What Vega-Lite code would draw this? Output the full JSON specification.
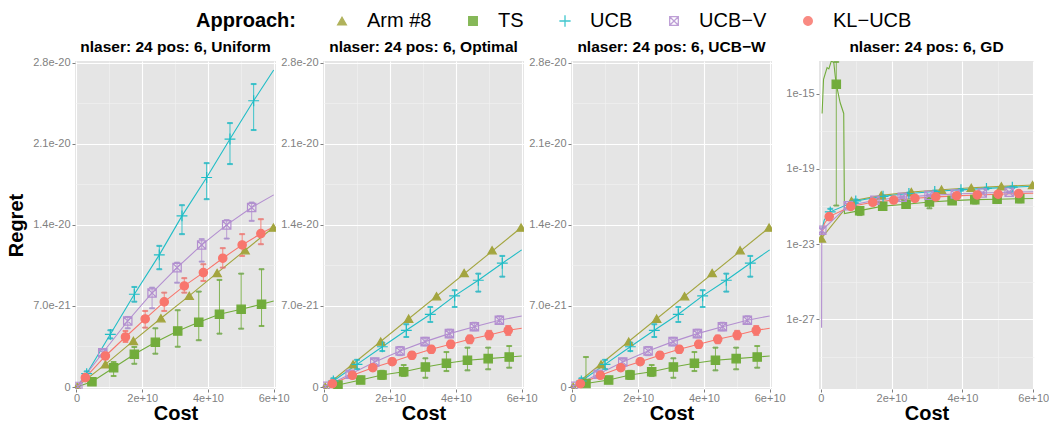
{
  "$schema": "https://vega.github.io/schema/vega-lite/v6.json",
  "padding": {"left": 6, "top": 11, "right": 0, "bottom": 0},
  "config": {
    "font": "Liberation Sans",
    "view": {"fill": "#E5E5E5", "stroke": null},
    "axis": {
      "domain": false,
      "labelColor": "#7F7F7F",
      "labelFontSize": 11,
      "labelPadding": 2,
      "labelFlush": false,
      "labelOverlap": false,
      "tickColor": "#7F7F7F",
      "tickSize": 3,
      "titleFontSize": 20,
      "titleFontWeight": "bold",
      "titleColor": "#000000",
      "titlePadding": 3
    },
    "axisX": {"labelPadding": 0, "titlePadding": 0},
    "title": {"fontSize": 15.5, "fontWeight": "bold", "color": "#000000", "offset": 0, "anchor": "middle", "frame": "group"}
  },
  "datasets": {
    "markers": [
      {"panel": "Uniform", "approach": "Arm #8", "cost": 0.02e10, "regret": 0.02e-21},
      {"panel": "Uniform", "approach": "Arm #8", "cost": 0.88e10, "regret": 1.96e-21},
      {"panel": "Uniform", "approach": "Arm #8", "cost": 1.73e10, "regret": 3.98e-21},
      {"panel": "Uniform", "approach": "Arm #8", "cost": 2.57e10, "regret": 5.94e-21},
      {"panel": "Uniform", "approach": "Arm #8", "cost": 3.43e10, "regret": 7.87e-21},
      {"panel": "Uniform", "approach": "Arm #8", "cost": 4.28e10, "regret": 9.85e-21},
      {"panel": "Uniform", "approach": "Arm #8", "cost": 5.13e10, "regret": 11.81e-21},
      {"panel": "Uniform", "approach": "Arm #8", "cost": 5.99e10, "regret": 13.77e-21},
      {"panel": "Uniform", "approach": "TS", "cost": 0.47e10, "regret": 0.46e-21, "lo": 0.30e-21, "hi": 0.62e-21},
      {"panel": "Uniform", "approach": "TS", "cost": 1.13e10, "regret": 1.67e-21, "lo": 0.95e-21, "hi": 2.16e-21},
      {"panel": "Uniform", "approach": "TS", "cost": 1.76e10, "regret": 2.83e-21, "lo": 2.01e-21, "hi": 3.46e-21},
      {"panel": "Uniform", "approach": "TS", "cost": 2.40e10, "regret": 3.86e-21, "lo": 2.88e-21, "hi": 5.07e-21},
      {"panel": "Uniform", "approach": "TS", "cost": 3.08e10, "regret": 4.84e-21, "lo": 3.48e-21, "hi": 6.63e-21},
      {"panel": "Uniform", "approach": "TS", "cost": 3.72e10, "regret": 5.59e-21, "lo": 4.04e-21, "hi": 8.24e-21},
      {"panel": "Uniform", "approach": "TS", "cost": 4.35e10, "regret": 6.28e-21, "lo": 4.61e-21, "hi": 9.25e-21},
      {"panel": "Uniform", "approach": "TS", "cost": 5.01e10, "regret": 6.71e-21, "lo": 5.04e-21, "hi": 9.79e-21},
      {"panel": "Uniform", "approach": "TS", "cost": 5.63e10, "regret": 7.15e-21, "lo": 5.27e-21, "hi": 10.17e-21},
      {"panel": "Uniform", "approach": "UCB", "cost": 0.31e10, "regret": 1.15e-21, "lo": 0.95e-21, "hi": 1.35e-21},
      {"panel": "Uniform", "approach": "UCB", "cost": 1.03e10, "regret": 4.55e-21, "lo": 4.20e-21, "hi": 4.90e-21},
      {"panel": "Uniform", "approach": "UCB", "cost": 1.76e10, "regret": 8.01e-21, "lo": 7.37e-21, "hi": 8.64e-21},
      {"panel": "Uniform", "approach": "UCB", "cost": 2.52e10, "regret": 11.41e-21, "lo": 10.17e-21, "hi": 12.19e-21},
      {"panel": "Uniform", "approach": "UCB", "cost": 3.21e10, "regret": 14.78e-21, "lo": 13.20e-21, "hi": 15.70e-21},
      {"panel": "Uniform", "approach": "UCB", "cost": 3.96e10, "regret": 18.09e-21, "lo": 16.22e-21, "hi": 19.33e-21},
      {"panel": "Uniform", "approach": "UCB", "cost": 4.67e10, "regret": 21.41e-21, "lo": 19.25e-21, "hi": 22.79e-21},
      {"panel": "Uniform", "approach": "UCB", "cost": 5.39e10, "regret": 24.72e-21, "lo": 22.19e-21, "hi": 26.16e-21},
      {"panel": "Uniform", "approach": "UCB−V", "cost": 0.04e10, "regret": 0.05e-21, "lo": 0.03e-21, "hi": 0.08e-21},
      {"panel": "Uniform", "approach": "UCB−V", "cost": 0.80e10, "regret": 2.96e-21, "lo": 2.66e-21, "hi": 3.26e-21},
      {"panel": "Uniform", "approach": "UCB−V", "cost": 1.56e10, "regret": 5.70e-21, "lo": 5.07e-21, "hi": 6.05e-21},
      {"panel": "Uniform", "approach": "UCB−V", "cost": 2.30e10, "regret": 8.12e-21, "lo": 6.80e-21, "hi": 8.58e-21},
      {"panel": "Uniform", "approach": "UCB−V", "cost": 3.06e10, "regret": 10.31e-21, "lo": 9.01e-21, "hi": 10.74e-21},
      {"panel": "Uniform", "approach": "UCB−V", "cost": 3.81e10, "regret": 12.27e-21, "lo": 10.83e-21, "hi": 12.77e-21},
      {"panel": "Uniform", "approach": "UCB−V", "cost": 4.57e10, "regret": 14.00e-21, "lo": 12.82e-21, "hi": 14.41e-21},
      {"panel": "Uniform", "approach": "UCB−V", "cost": 5.33e10, "regret": 15.50e-21, "lo": 14.35e-21, "hi": 15.93e-21},
      {"panel": "Uniform", "approach": "KL−UCB", "cost": 0.27e10, "regret": 0.81e-21, "lo": 0.65e-21, "hi": 0.97e-21},
      {"panel": "Uniform", "approach": "KL−UCB", "cost": 0.88e10, "regret": 2.68e-21, "lo": 2.40e-21, "hi": 2.95e-21},
      {"panel": "Uniform", "approach": "KL−UCB", "cost": 1.49e10, "regret": 4.32e-21, "lo": 3.89e-21, "hi": 4.84e-21},
      {"panel": "Uniform", "approach": "KL−UCB", "cost": 2.09e10, "regret": 5.88e-21, "lo": 5.13e-21, "hi": 6.57e-21},
      {"panel": "Uniform", "approach": "KL−UCB", "cost": 2.67e10, "regret": 7.35e-21, "lo": 6.57e-21, "hi": 8.15e-21},
      {"panel": "Uniform", "approach": "KL−UCB", "cost": 3.28e10, "regret": 8.73e-21, "lo": 8.15e-21, "hi": 9.40e-21},
      {"panel": "Uniform", "approach": "KL−UCB", "cost": 3.86e10, "regret": 9.88e-21, "lo": 9.16e-21, "hi": 10.60e-21},
      {"panel": "Uniform", "approach": "KL−UCB", "cost": 4.45e10, "regret": 11.12e-21, "lo": 10.31e-21, "hi": 11.99e-21},
      {"panel": "Uniform", "approach": "KL−UCB", "cost": 5.04e10, "regret": 12.27e-21, "lo": 11.32e-21, "hi": 13.20e-21},
      {"panel": "Uniform", "approach": "KL−UCB", "cost": 5.61e10, "regret": 13.25e-21, "lo": 12.33e-21, "hi": 14.49e-21},

      {"panel": "Optimal", "approach": "Arm #8", "cost": 0.02e10, "regret": 0.02e-21},
      {"panel": "Optimal", "approach": "Arm #8", "cost": 0.87e10, "regret": 1.96e-21},
      {"panel": "Optimal", "approach": "Arm #8", "cost": 1.71e10, "regret": 3.92e-21},
      {"panel": "Optimal", "approach": "Arm #8", "cost": 2.56e10, "regret": 5.90e-21},
      {"panel": "Optimal", "approach": "Arm #8", "cost": 3.41e10, "regret": 7.84e-21},
      {"panel": "Optimal", "approach": "Arm #8", "cost": 4.25e10, "regret": 9.85e-21},
      {"panel": "Optimal", "approach": "Arm #8", "cost": 5.10e10, "regret": 11.81e-21},
      {"panel": "Optimal", "approach": "Arm #8", "cost": 5.98e10, "regret": 13.77e-21},
      {"panel": "Optimal", "approach": "TS", "cost": 0.41e10, "regret": 0.17e-21, "lo": 0.06e-21, "hi": 0.30e-21},
      {"panel": "Optimal", "approach": "TS", "cost": 1.10e10, "regret": 0.60e-21, "lo": 0.35e-21, "hi": 0.90e-21},
      {"panel": "Optimal", "approach": "TS", "cost": 1.75e10, "regret": 1.04e-21, "lo": 0.70e-21, "hi": 1.40e-21},
      {"panel": "Optimal", "approach": "TS", "cost": 2.41e10, "regret": 1.32e-21, "lo": 0.95e-21, "hi": 1.90e-21},
      {"panel": "Optimal", "approach": "TS", "cost": 3.07e10, "regret": 1.73e-21, "lo": 0.80e-21, "hi": 2.48e-21},
      {"panel": "Optimal", "approach": "TS", "cost": 3.71e10, "regret": 2.05e-21, "lo": 1.38e-21, "hi": 3.02e-21},
      {"panel": "Optimal", "approach": "TS", "cost": 4.35e10, "regret": 2.31e-21, "lo": 1.44e-21, "hi": 3.40e-21},
      {"panel": "Optimal", "approach": "TS", "cost": 4.98e10, "regret": 2.45e-21, "lo": 1.53e-21, "hi": 3.40e-21},
      {"panel": "Optimal", "approach": "TS", "cost": 5.62e10, "regret": 2.59e-21, "lo": 1.67e-21, "hi": 3.54e-21},
      {"panel": "Optimal", "approach": "UCB", "cost": 0.27e10, "regret": 0.52e-21, "lo": 0.30e-21, "hi": 0.75e-21},
      {"panel": "Optimal", "approach": "UCB", "cost": 0.99e10, "regret": 1.96e-21, "lo": 1.55e-21, "hi": 2.35e-21},
      {"panel": "Optimal", "approach": "UCB", "cost": 1.76e10, "regret": 3.48e-21, "lo": 3.11e-21, "hi": 3.83e-21},
      {"panel": "Optimal", "approach": "UCB", "cost": 2.49e10, "regret": 4.90e-21, "lo": 4.32e-21, "hi": 5.42e-21},
      {"panel": "Optimal", "approach": "UCB", "cost": 3.22e10, "regret": 6.28e-21, "lo": 5.62e-21, "hi": 6.91e-21},
      {"panel": "Optimal", "approach": "UCB", "cost": 3.96e10, "regret": 7.87e-21, "lo": 6.91e-21, "hi": 8.36e-21},
      {"panel": "Optimal", "approach": "UCB", "cost": 4.68e10, "regret": 9.22e-21, "lo": 8.24e-21, "hi": 9.79e-21},
      {"panel": "Optimal", "approach": "UCB", "cost": 5.41e10, "regret": 10.69e-21, "lo": 9.53e-21, "hi": 11.32e-21},
      {"panel": "Optimal", "approach": "UCB−V", "cost": 0.03e10, "regret": 0.054e-21, "lo": 0.04e-21, "hi": 0.07e-21},
      {"panel": "Optimal", "approach": "UCB−V", "cost": 0.78e10, "regret": 1.10e-21, "lo": 0.85e-21, "hi": 1.35e-21},
      {"panel": "Optimal", "approach": "UCB−V", "cost": 1.53e10, "regret": 2.16e-21, "lo": 1.85e-21, "hi": 2.45e-21},
      {"panel": "Optimal", "approach": "UCB−V", "cost": 2.30e10, "regret": 3.11e-21, "lo": 2.75e-21, "hi": 3.46e-21},
      {"panel": "Optimal", "approach": "UCB−V", "cost": 3.06e10, "regret": 3.92e-21, "lo": 3.60e-21, "hi": 4.25e-21},
      {"panel": "Optimal", "approach": "UCB−V", "cost": 3.80e10, "regret": 4.61e-21, "lo": 4.30e-21, "hi": 4.95e-21},
      {"panel": "Optimal", "approach": "UCB−V", "cost": 4.56e10, "regret": 5.21e-21, "lo": 4.90e-21, "hi": 5.55e-21},
      {"panel": "Optimal", "approach": "UCB−V", "cost": 5.32e10, "regret": 5.76e-21, "lo": 5.45e-21, "hi": 6.10e-21},
      {"panel": "Optimal", "approach": "KL−UCB", "cost": 0.24e10, "regret": 0.29e-21, "lo": 0.20e-21, "hi": 0.38e-21},
      {"panel": "Optimal", "approach": "KL−UCB", "cost": 0.85e10, "regret": 1.01e-21, "lo": 0.85e-21, "hi": 1.17e-21},
      {"panel": "Optimal", "approach": "KL−UCB", "cost": 1.47e10, "regret": 1.67e-21, "lo": 1.45e-21, "hi": 1.90e-21},
      {"panel": "Optimal", "approach": "KL−UCB", "cost": 2.06e10, "regret": 2.19e-21, "lo": 1.95e-21, "hi": 2.45e-21},
      {"panel": "Optimal", "approach": "KL−UCB", "cost": 2.66e10, "regret": 2.74e-21, "lo": 2.45e-21, "hi": 3.02e-21},
      {"panel": "Optimal", "approach": "KL−UCB", "cost": 3.25e10, "regret": 3.26e-21, "lo": 2.95e-21, "hi": 3.55e-21},
      {"panel": "Optimal", "approach": "KL−UCB", "cost": 3.84e10, "regret": 3.69e-21, "lo": 3.38e-21, "hi": 4.00e-21},
      {"panel": "Optimal", "approach": "KL−UCB", "cost": 4.42e10, "regret": 4.12e-21, "lo": 3.78e-21, "hi": 4.45e-21},
      {"panel": "Optimal", "approach": "KL−UCB", "cost": 5.01e10, "regret": 4.49e-21, "lo": 4.12e-21, "hi": 4.85e-21},
      {"panel": "Optimal", "approach": "KL−UCB", "cost": 5.59e10, "regret": 4.90e-21, "lo": 4.49e-21, "hi": 5.27e-21},

      {"panel": "UCB-W", "approach": "Arm #8", "cost": 0.02e10, "regret": 0.02e-21},
      {"panel": "UCB-W", "approach": "Arm #8", "cost": 0.87e10, "regret": 1.96e-21},
      {"panel": "UCB-W", "approach": "Arm #8", "cost": 1.71e10, "regret": 3.92e-21},
      {"panel": "UCB-W", "approach": "Arm #8", "cost": 2.56e10, "regret": 5.90e-21},
      {"panel": "UCB-W", "approach": "Arm #8", "cost": 3.41e10, "regret": 7.84e-21},
      {"panel": "UCB-W", "approach": "Arm #8", "cost": 4.25e10, "regret": 9.85e-21},
      {"panel": "UCB-W", "approach": "Arm #8", "cost": 5.10e10, "regret": 11.81e-21},
      {"panel": "UCB-W", "approach": "Arm #8", "cost": 5.98e10, "regret": 13.77e-21},
      {"panel": "UCB-W", "approach": "TS", "cost": 0.41e10, "regret": 0.30e-21, "lo": 0.17e-21, "hi": 2.59e-21},
      {"panel": "UCB-W", "approach": "TS", "cost": 1.10e10, "regret": 0.60e-21, "lo": 0.35e-21, "hi": 0.90e-21},
      {"panel": "UCB-W", "approach": "TS", "cost": 1.75e10, "regret": 1.04e-21, "lo": 0.70e-21, "hi": 1.40e-21},
      {"panel": "UCB-W", "approach": "TS", "cost": 2.41e10, "regret": 1.32e-21, "lo": 0.95e-21, "hi": 1.90e-21},
      {"panel": "UCB-W", "approach": "TS", "cost": 3.07e10, "regret": 1.73e-21, "lo": 0.80e-21, "hi": 2.48e-21},
      {"panel": "UCB-W", "approach": "TS", "cost": 3.71e10, "regret": 2.05e-21, "lo": 1.38e-21, "hi": 3.02e-21},
      {"panel": "UCB-W", "approach": "TS", "cost": 4.35e10, "regret": 2.31e-21, "lo": 1.44e-21, "hi": 3.40e-21},
      {"panel": "UCB-W", "approach": "TS", "cost": 4.98e10, "regret": 2.45e-21, "lo": 1.53e-21, "hi": 3.40e-21},
      {"panel": "UCB-W", "approach": "TS", "cost": 5.62e10, "regret": 2.59e-21, "lo": 1.67e-21, "hi": 3.54e-21},
      {"panel": "UCB-W", "approach": "UCB", "cost": 0.27e10, "regret": 0.52e-21, "lo": 0.30e-21, "hi": 0.75e-21},
      {"panel": "UCB-W", "approach": "UCB", "cost": 0.99e10, "regret": 1.96e-21, "lo": 1.55e-21, "hi": 2.35e-21},
      {"panel": "UCB-W", "approach": "UCB", "cost": 1.76e10, "regret": 3.48e-21, "lo": 3.11e-21, "hi": 3.83e-21},
      {"panel": "UCB-W", "approach": "UCB", "cost": 2.49e10, "regret": 4.90e-21, "lo": 4.32e-21, "hi": 5.42e-21},
      {"panel": "UCB-W", "approach": "UCB", "cost": 3.22e10, "regret": 6.28e-21, "lo": 5.62e-21, "hi": 6.91e-21},
      {"panel": "UCB-W", "approach": "UCB", "cost": 3.96e10, "regret": 7.87e-21, "lo": 6.91e-21, "hi": 8.36e-21},
      {"panel": "UCB-W", "approach": "UCB", "cost": 4.68e10, "regret": 9.22e-21, "lo": 8.24e-21, "hi": 9.79e-21},
      {"panel": "UCB-W", "approach": "UCB", "cost": 5.41e10, "regret": 10.69e-21, "lo": 9.53e-21, "hi": 11.32e-21},
      {"panel": "UCB-W", "approach": "UCB−V", "cost": 0.03e10, "regret": 0.054e-21, "lo": 0.04e-21, "hi": 0.07e-21},
      {"panel": "UCB-W", "approach": "UCB−V", "cost": 0.78e10, "regret": 1.10e-21, "lo": 0.85e-21, "hi": 1.35e-21},
      {"panel": "UCB-W", "approach": "UCB−V", "cost": 1.53e10, "regret": 2.16e-21, "lo": 1.85e-21, "hi": 2.45e-21},
      {"panel": "UCB-W", "approach": "UCB−V", "cost": 2.30e10, "regret": 3.11e-21, "lo": 2.75e-21, "hi": 3.46e-21},
      {"panel": "UCB-W", "approach": "UCB−V", "cost": 3.06e10, "regret": 3.92e-21, "lo": 3.60e-21, "hi": 4.25e-21},
      {"panel": "UCB-W", "approach": "UCB−V", "cost": 3.80e10, "regret": 4.61e-21, "lo": 4.30e-21, "hi": 4.95e-21},
      {"panel": "UCB-W", "approach": "UCB−V", "cost": 4.56e10, "regret": 5.21e-21, "lo": 4.90e-21, "hi": 5.55e-21},
      {"panel": "UCB-W", "approach": "UCB−V", "cost": 5.32e10, "regret": 5.76e-21, "lo": 5.45e-21, "hi": 6.10e-21},
      {"panel": "UCB-W", "approach": "KL−UCB", "cost": 0.24e10, "regret": 0.29e-21, "lo": 0.20e-21, "hi": 0.38e-21},
      {"panel": "UCB-W", "approach": "KL−UCB", "cost": 0.85e10, "regret": 1.01e-21, "lo": 0.85e-21, "hi": 1.17e-21},
      {"panel": "UCB-W", "approach": "KL−UCB", "cost": 1.47e10, "regret": 1.67e-21, "lo": 1.45e-21, "hi": 1.90e-21},
      {"panel": "UCB-W", "approach": "KL−UCB", "cost": 2.06e10, "regret": 2.19e-21, "lo": 1.95e-21, "hi": 2.45e-21},
      {"panel": "UCB-W", "approach": "KL−UCB", "cost": 2.66e10, "regret": 2.74e-21, "lo": 2.45e-21, "hi": 3.02e-21},
      {"panel": "UCB-W", "approach": "KL−UCB", "cost": 3.25e10, "regret": 3.26e-21, "lo": 2.95e-21, "hi": 3.55e-21},
      {"panel": "UCB-W", "approach": "KL−UCB", "cost": 3.84e10, "regret": 3.69e-21, "lo": 3.38e-21, "hi": 4.00e-21},
      {"panel": "UCB-W", "approach": "KL−UCB", "cost": 4.42e10, "regret": 4.12e-21, "lo": 3.78e-21, "hi": 4.45e-21},
      {"panel": "UCB-W", "approach": "KL−UCB", "cost": 5.01e10, "regret": 4.49e-21, "lo": 4.12e-21, "hi": 4.85e-21},
      {"panel": "UCB-W", "approach": "KL−UCB", "cost": 5.59e10, "regret": 4.90e-21, "lo": 4.49e-21, "hi": 5.27e-21},

      {"panel": "GD", "approach": "Arm #8", "cost": 0.02e10, "regret": 0.02e-21},
      {"panel": "GD", "approach": "Arm #8", "cost": 0.87e10, "regret": 1.96e-21},
      {"panel": "GD", "approach": "Arm #8", "cost": 1.71e10, "regret": 3.92e-21},
      {"panel": "GD", "approach": "Arm #8", "cost": 2.56e10, "regret": 5.90e-21},
      {"panel": "GD", "approach": "Arm #8", "cost": 3.41e10, "regret": 7.84e-21},
      {"panel": "GD", "approach": "Arm #8", "cost": 4.25e10, "regret": 9.85e-21},
      {"panel": "GD", "approach": "Arm #8", "cost": 5.10e10, "regret": 11.81e-21},
      {"panel": "GD", "approach": "Arm #8", "cost": 5.98e10, "regret": 13.77e-21},
      {"panel": "GD", "approach": "TS", "cost": 0.44e10, "regret": 3.16e-15, "lo": 1.12e-21, "hi": 4.9e-14},
      {"panel": "GD", "approach": "TS", "cost": 1.10e10, "regret": 0.60e-21, "lo": 0.35e-21, "hi": 0.90e-21},
      {"panel": "GD", "approach": "TS", "cost": 1.75e10, "regret": 1.04e-21, "lo": 0.70e-21, "hi": 1.40e-21},
      {"panel": "GD", "approach": "TS", "cost": 2.41e10, "regret": 1.32e-21, "lo": 0.95e-21, "hi": 1.90e-21},
      {"panel": "GD", "approach": "TS", "cost": 3.07e10, "regret": 1.73e-21, "lo": 0.80e-21, "hi": 2.48e-21},
      {"panel": "GD", "approach": "TS", "cost": 3.71e10, "regret": 2.05e-21, "lo": 1.38e-21, "hi": 3.02e-21},
      {"panel": "GD", "approach": "TS", "cost": 4.35e10, "regret": 2.31e-21, "lo": 1.44e-21, "hi": 3.40e-21},
      {"panel": "GD", "approach": "TS", "cost": 4.98e10, "regret": 2.45e-21, "lo": 1.53e-21, "hi": 3.40e-21},
      {"panel": "GD", "approach": "TS", "cost": 5.62e10, "regret": 2.59e-21, "lo": 1.67e-21, "hi": 3.54e-21},
      {"panel": "GD", "approach": "UCB", "cost": 0.27e10, "regret": 0.52e-21, "lo": 0.30e-21, "hi": 0.75e-21},
      {"panel": "GD", "approach": "UCB", "cost": 0.99e10, "regret": 1.96e-21, "lo": 1.55e-21, "hi": 2.35e-21},
      {"panel": "GD", "approach": "UCB", "cost": 1.76e10, "regret": 3.48e-21, "lo": 3.11e-21, "hi": 3.83e-21},
      {"panel": "GD", "approach": "UCB", "cost": 2.49e10, "regret": 4.90e-21, "lo": 4.32e-21, "hi": 5.42e-21},
      {"panel": "GD", "approach": "UCB", "cost": 3.22e10, "regret": 6.28e-21, "lo": 5.62e-21, "hi": 6.91e-21},
      {"panel": "GD", "approach": "UCB", "cost": 3.96e10, "regret": 7.87e-21, "lo": 6.91e-21, "hi": 8.36e-21},
      {"panel": "GD", "approach": "UCB", "cost": 4.68e10, "regret": 9.22e-21, "lo": 8.24e-21, "hi": 9.79e-21},
      {"panel": "GD", "approach": "UCB", "cost": 5.41e10, "regret": 10.69e-21, "lo": 9.53e-21, "hi": 11.32e-21},
      {"panel": "GD", "approach": "UCB−V", "cost": 0.03e10, "regret": 0.054e-21, "lo": 0.04e-21, "hi": 0.07e-21},
      {"panel": "GD", "approach": "UCB−V", "cost": 0.78e10, "regret": 1.10e-21, "lo": 0.85e-21, "hi": 1.35e-21},
      {"panel": "GD", "approach": "UCB−V", "cost": 1.53e10, "regret": 2.16e-21, "lo": 1.85e-21, "hi": 2.45e-21},
      {"panel": "GD", "approach": "UCB−V", "cost": 2.30e10, "regret": 3.11e-21, "lo": 2.75e-21, "hi": 3.46e-21},
      {"panel": "GD", "approach": "UCB−V", "cost": 3.06e10, "regret": 3.92e-21, "lo": 3.60e-21, "hi": 4.25e-21},
      {"panel": "GD", "approach": "UCB−V", "cost": 3.80e10, "regret": 4.61e-21, "lo": 4.30e-21, "hi": 4.95e-21},
      {"panel": "GD", "approach": "UCB−V", "cost": 4.56e10, "regret": 5.21e-21, "lo": 4.90e-21, "hi": 5.55e-21},
      {"panel": "GD", "approach": "UCB−V", "cost": 5.32e10, "regret": 5.76e-21, "lo": 5.45e-21, "hi": 6.10e-21},
      {"panel": "GD", "approach": "KL−UCB", "cost": 0.24e10, "regret": 0.29e-21, "lo": 0.20e-21, "hi": 0.38e-21},
      {"panel": "GD", "approach": "KL−UCB", "cost": 0.85e10, "regret": 1.01e-21, "lo": 0.85e-21, "hi": 1.17e-21},
      {"panel": "GD", "approach": "KL−UCB", "cost": 1.47e10, "regret": 1.67e-21, "lo": 1.45e-21, "hi": 1.90e-21},
      {"panel": "GD", "approach": "KL−UCB", "cost": 2.06e10, "regret": 2.19e-21, "lo": 1.95e-21, "hi": 2.45e-21},
      {"panel": "GD", "approach": "KL−UCB", "cost": 2.66e10, "regret": 2.74e-21, "lo": 2.45e-21, "hi": 3.02e-21},
      {"panel": "GD", "approach": "KL−UCB", "cost": 3.25e10, "regret": 3.26e-21, "lo": 2.95e-21, "hi": 3.55e-21},
      {"panel": "GD", "approach": "KL−UCB", "cost": 3.84e10, "regret": 3.69e-21, "lo": 3.38e-21, "hi": 4.00e-21},
      {"panel": "GD", "approach": "KL−UCB", "cost": 4.42e10, "regret": 4.12e-21, "lo": 3.78e-21, "hi": 4.45e-21},
      {"panel": "GD", "approach": "KL−UCB", "cost": 5.01e10, "regret": 4.49e-21, "lo": 4.12e-21, "hi": 4.85e-21},
      {"panel": "GD", "approach": "KL−UCB", "cost": 5.59e10, "regret": 4.90e-21, "lo": 4.49e-21, "hi": 5.27e-21}
    ],
    "curves": [
      {"panel": "Uniform", "approach": "Arm #8", "cost": 0, "regret": 0},
      {"panel": "Uniform", "approach": "Arm #8", "cost": 0.88e10, "regret": 1.96e-21},
      {"panel": "Uniform", "approach": "Arm #8", "cost": 1.73e10, "regret": 3.98e-21},
      {"panel": "Uniform", "approach": "Arm #8", "cost": 2.57e10, "regret": 5.94e-21},
      {"panel": "Uniform", "approach": "Arm #8", "cost": 3.43e10, "regret": 7.87e-21},
      {"panel": "Uniform", "approach": "Arm #8", "cost": 4.28e10, "regret": 9.85e-21},
      {"panel": "Uniform", "approach": "Arm #8", "cost": 5.13e10, "regret": 11.81e-21},
      {"panel": "Uniform", "approach": "Arm #8", "cost": 6.0e10, "regret": 13.80e-21},
      {"panel": "Uniform", "approach": "TS", "cost": 0, "regret": 0},
      {"panel": "Uniform", "approach": "TS", "cost": 0.47e10, "regret": 0.46e-21},
      {"panel": "Uniform", "approach": "TS", "cost": 1.13e10, "regret": 1.67e-21},
      {"panel": "Uniform", "approach": "TS", "cost": 1.76e10, "regret": 2.83e-21},
      {"panel": "Uniform", "approach": "TS", "cost": 2.40e10, "regret": 3.86e-21},
      {"panel": "Uniform", "approach": "TS", "cost": 3.08e10, "regret": 4.84e-21},
      {"panel": "Uniform", "approach": "TS", "cost": 3.72e10, "regret": 5.59e-21},
      {"panel": "Uniform", "approach": "TS", "cost": 4.35e10, "regret": 6.28e-21},
      {"panel": "Uniform", "approach": "TS", "cost": 5.01e10, "regret": 6.71e-21},
      {"panel": "Uniform", "approach": "TS", "cost": 5.63e10, "regret": 7.15e-21},
      {"panel": "Uniform", "approach": "TS", "cost": 6.0e10, "regret": 7.43e-21},
      {"panel": "Uniform", "approach": "UCB", "cost": 0, "regret": 0},
      {"panel": "Uniform", "approach": "UCB", "cost": 0.31e10, "regret": 1.15e-21},
      {"panel": "Uniform", "approach": "UCB", "cost": 1.03e10, "regret": 4.55e-21},
      {"panel": "Uniform", "approach": "UCB", "cost": 1.76e10, "regret": 8.01e-21},
      {"panel": "Uniform", "approach": "UCB", "cost": 2.52e10, "regret": 11.41e-21},
      {"panel": "Uniform", "approach": "UCB", "cost": 3.21e10, "regret": 14.78e-21},
      {"panel": "Uniform", "approach": "UCB", "cost": 3.96e10, "regret": 18.09e-21},
      {"panel": "Uniform", "approach": "UCB", "cost": 4.67e10, "regret": 21.41e-21},
      {"panel": "Uniform", "approach": "UCB", "cost": 5.39e10, "regret": 24.72e-21},
      {"panel": "Uniform", "approach": "UCB", "cost": 6.0e10, "regret": 27.37e-21},
      {"panel": "Uniform", "approach": "UCB−V", "cost": 0, "regret": 0},
      {"panel": "Uniform", "approach": "UCB−V", "cost": 0.80e10, "regret": 2.96e-21},
      {"panel": "Uniform", "approach": "UCB−V", "cost": 1.56e10, "regret": 5.70e-21},
      {"panel": "Uniform", "approach": "UCB−V", "cost": 2.30e10, "regret": 8.12e-21},
      {"panel": "Uniform", "approach": "UCB−V", "cost": 3.06e10, "regret": 10.31e-21},
      {"panel": "Uniform", "approach": "UCB−V", "cost": 3.81e10, "regret": 12.27e-21},
      {"panel": "Uniform", "approach": "UCB−V", "cost": 4.57e10, "regret": 14.00e-21},
      {"panel": "Uniform", "approach": "UCB−V", "cost": 5.33e10, "regret": 15.50e-21},
      {"panel": "Uniform", "approach": "UCB−V", "cost": 6.0e10, "regret": 16.59e-21},
      {"panel": "Uniform", "approach": "KL−UCB", "cost": 0, "regret": 0},
      {"panel": "Uniform", "approach": "KL−UCB", "cost": 0.27e10, "regret": 0.81e-21},
      {"panel": "Uniform", "approach": "KL−UCB", "cost": 0.88e10, "regret": 2.68e-21},
      {"panel": "Uniform", "approach": "KL−UCB", "cost": 1.49e10, "regret": 4.32e-21},
      {"panel": "Uniform", "approach": "KL−UCB", "cost": 2.09e10, "regret": 5.88e-21},
      {"panel": "Uniform", "approach": "KL−UCB", "cost": 2.67e10, "regret": 7.35e-21},
      {"panel": "Uniform", "approach": "KL−UCB", "cost": 3.28e10, "regret": 8.73e-21},
      {"panel": "Uniform", "approach": "KL−UCB", "cost": 3.86e10, "regret": 9.88e-21},
      {"panel": "Uniform", "approach": "KL−UCB", "cost": 4.45e10, "regret": 11.12e-21},
      {"panel": "Uniform", "approach": "KL−UCB", "cost": 5.04e10, "regret": 12.27e-21},
      {"panel": "Uniform", "approach": "KL−UCB", "cost": 5.61e10, "regret": 13.25e-21},
      {"panel": "Uniform", "approach": "KL−UCB", "cost": 6.0e10, "regret": 13.83e-21},

      {"panel": "Optimal", "approach": "Arm #8", "cost": 0, "regret": 0},
      {"panel": "Optimal", "approach": "Arm #8", "cost": 6.0e10, "regret": 13.80e-21},
      {"panel": "Optimal", "approach": "TS", "cost": 0, "regret": 0},
      {"panel": "Optimal", "approach": "TS", "cost": 0.41e10, "regret": 0.17e-21},
      {"panel": "Optimal", "approach": "TS", "cost": 1.10e10, "regret": 0.60e-21},
      {"panel": "Optimal", "approach": "TS", "cost": 1.75e10, "regret": 1.04e-21},
      {"panel": "Optimal", "approach": "TS", "cost": 2.41e10, "regret": 1.32e-21},
      {"panel": "Optimal", "approach": "TS", "cost": 3.07e10, "regret": 1.73e-21},
      {"panel": "Optimal", "approach": "TS", "cost": 3.71e10, "regret": 2.05e-21},
      {"panel": "Optimal", "approach": "TS", "cost": 4.35e10, "regret": 2.31e-21},
      {"panel": "Optimal", "approach": "TS", "cost": 4.98e10, "regret": 2.45e-21},
      {"panel": "Optimal", "approach": "TS", "cost": 5.62e10, "regret": 2.59e-21},
      {"panel": "Optimal", "approach": "TS", "cost": 6.0e10, "regret": 2.68e-21},
      {"panel": "Optimal", "approach": "UCB", "cost": 0, "regret": 0},
      {"panel": "Optimal", "approach": "UCB", "cost": 0.27e10, "regret": 0.52e-21},
      {"panel": "Optimal", "approach": "UCB", "cost": 0.99e10, "regret": 1.96e-21},
      {"panel": "Optimal", "approach": "UCB", "cost": 1.76e10, "regret": 3.48e-21},
      {"panel": "Optimal", "approach": "UCB", "cost": 2.49e10, "regret": 4.90e-21},
      {"panel": "Optimal", "approach": "UCB", "cost": 3.22e10, "regret": 6.28e-21},
      {"panel": "Optimal", "approach": "UCB", "cost": 3.96e10, "regret": 7.87e-21},
      {"panel": "Optimal", "approach": "UCB", "cost": 4.68e10, "regret": 9.22e-21},
      {"panel": "Optimal", "approach": "UCB", "cost": 5.41e10, "regret": 10.69e-21},
      {"panel": "Optimal", "approach": "UCB", "cost": 6.0e10, "regret": 11.84e-21},
      {"panel": "Optimal", "approach": "UCB−V", "cost": 0, "regret": 0},
      {"panel": "Optimal", "approach": "UCB−V", "cost": 0.78e10, "regret": 1.10e-21},
      {"panel": "Optimal", "approach": "UCB−V", "cost": 1.53e10, "regret": 2.16e-21},
      {"panel": "Optimal", "approach": "UCB−V", "cost": 2.30e10, "regret": 3.11e-21},
      {"panel": "Optimal", "approach": "UCB−V", "cost": 3.06e10, "regret": 3.92e-21},
      {"panel": "Optimal", "approach": "UCB−V", "cost": 3.80e10, "regret": 4.61e-21},
      {"panel": "Optimal", "approach": "UCB−V", "cost": 4.56e10, "regret": 5.21e-21},
      {"panel": "Optimal", "approach": "UCB−V", "cost": 5.32e10, "regret": 5.76e-21},
      {"panel": "Optimal", "approach": "UCB−V", "cost": 6.0e10, "regret": 6.14e-21},
      {"panel": "Optimal", "approach": "KL−UCB", "cost": 0, "regret": 0},
      {"panel": "Optimal", "approach": "KL−UCB", "cost": 0.24e10, "regret": 0.29e-21},
      {"panel": "Optimal", "approach": "KL−UCB", "cost": 0.85e10, "regret": 1.01e-21},
      {"panel": "Optimal", "approach": "KL−UCB", "cost": 1.47e10, "regret": 1.67e-21},
      {"panel": "Optimal", "approach": "KL−UCB", "cost": 2.06e10, "regret": 2.19e-21},
      {"panel": "Optimal", "approach": "KL−UCB", "cost": 2.66e10, "regret": 2.74e-21},
      {"panel": "Optimal", "approach": "KL−UCB", "cost": 3.25e10, "regret": 3.26e-21},
      {"panel": "Optimal", "approach": "KL−UCB", "cost": 3.84e10, "regret": 3.69e-21},
      {"panel": "Optimal", "approach": "KL−UCB", "cost": 4.42e10, "regret": 4.12e-21},
      {"panel": "Optimal", "approach": "KL−UCB", "cost": 5.01e10, "regret": 4.49e-21},
      {"panel": "Optimal", "approach": "KL−UCB", "cost": 5.59e10, "regret": 4.90e-21},
      {"panel": "Optimal", "approach": "KL−UCB", "cost": 6.0e10, "regret": 5.07e-21},

      {"panel": "UCB-W", "approach": "Arm #8", "cost": 0, "regret": 0},
      {"panel": "UCB-W", "approach": "Arm #8", "cost": 6.0e10, "regret": 13.80e-21},
      {"panel": "UCB-W", "approach": "TS", "cost": 0, "regret": 0},
      {"panel": "UCB-W", "approach": "TS", "cost": 0.41e10, "regret": 0.30e-21},
      {"panel": "UCB-W", "approach": "TS", "cost": 1.10e10, "regret": 0.60e-21},
      {"panel": "UCB-W", "approach": "TS", "cost": 1.75e10, "regret": 1.04e-21},
      {"panel": "UCB-W", "approach": "TS", "cost": 2.41e10, "regret": 1.32e-21},
      {"panel": "UCB-W", "approach": "TS", "cost": 3.07e10, "regret": 1.73e-21},
      {"panel": "UCB-W", "approach": "TS", "cost": 3.71e10, "regret": 2.05e-21},
      {"panel": "UCB-W", "approach": "TS", "cost": 4.35e10, "regret": 2.31e-21},
      {"panel": "UCB-W", "approach": "TS", "cost": 4.98e10, "regret": 2.45e-21},
      {"panel": "UCB-W", "approach": "TS", "cost": 5.62e10, "regret": 2.59e-21},
      {"panel": "UCB-W", "approach": "TS", "cost": 6.0e10, "regret": 2.68e-21},
      {"panel": "UCB-W", "approach": "UCB", "cost": 0, "regret": 0},
      {"panel": "UCB-W", "approach": "UCB", "cost": 0.27e10, "regret": 0.52e-21},
      {"panel": "UCB-W", "approach": "UCB", "cost": 0.99e10, "regret": 1.96e-21},
      {"panel": "UCB-W", "approach": "UCB", "cost": 1.76e10, "regret": 3.48e-21},
      {"panel": "UCB-W", "approach": "UCB", "cost": 2.49e10, "regret": 4.90e-21},
      {"panel": "UCB-W", "approach": "UCB", "cost": 3.22e10, "regret": 6.28e-21},
      {"panel": "UCB-W", "approach": "UCB", "cost": 3.96e10, "regret": 7.87e-21},
      {"panel": "UCB-W", "approach": "UCB", "cost": 4.68e10, "regret": 9.22e-21},
      {"panel": "UCB-W", "approach": "UCB", "cost": 5.41e10, "regret": 10.69e-21},
      {"panel": "UCB-W", "approach": "UCB", "cost": 6.0e10, "regret": 11.84e-21},
      {"panel": "UCB-W", "approach": "UCB−V", "cost": 0, "regret": 0},
      {"panel": "UCB-W", "approach": "UCB−V", "cost": 0.78e10, "regret": 1.10e-21},
      {"panel": "UCB-W", "approach": "UCB−V", "cost": 1.53e10, "regret": 2.16e-21},
      {"panel": "UCB-W", "approach": "UCB−V", "cost": 2.30e10, "regret": 3.11e-21},
      {"panel": "UCB-W", "approach": "UCB−V", "cost": 3.06e10, "regret": 3.92e-21},
      {"panel": "UCB-W", "approach": "UCB−V", "cost": 3.80e10, "regret": 4.61e-21},
      {"panel": "UCB-W", "approach": "UCB−V", "cost": 4.56e10, "regret": 5.21e-21},
      {"panel": "UCB-W", "approach": "UCB−V", "cost": 5.32e10, "regret": 5.76e-21},
      {"panel": "UCB-W", "approach": "UCB−V", "cost": 6.0e10, "regret": 6.14e-21},
      {"panel": "UCB-W", "approach": "KL−UCB", "cost": 0, "regret": 0},
      {"panel": "UCB-W", "approach": "KL−UCB", "cost": 0.24e10, "regret": 0.29e-21},
      {"panel": "UCB-W", "approach": "KL−UCB", "cost": 0.85e10, "regret": 1.01e-21},
      {"panel": "UCB-W", "approach": "KL−UCB", "cost": 1.47e10, "regret": 1.67e-21},
      {"panel": "UCB-W", "approach": "KL−UCB", "cost": 2.06e10, "regret": 2.19e-21},
      {"panel": "UCB-W", "approach": "KL−UCB", "cost": 2.66e10, "regret": 2.74e-21},
      {"panel": "UCB-W", "approach": "KL−UCB", "cost": 3.25e10, "regret": 3.26e-21},
      {"panel": "UCB-W", "approach": "KL−UCB", "cost": 3.84e10, "regret": 3.69e-21},
      {"panel": "UCB-W", "approach": "KL−UCB", "cost": 4.42e10, "regret": 4.12e-21},
      {"panel": "UCB-W", "approach": "KL−UCB", "cost": 5.01e10, "regret": 4.49e-21},
      {"panel": "UCB-W", "approach": "KL−UCB", "cost": 5.59e10, "regret": 4.90e-21},
      {"panel": "UCB-W", "approach": "KL−UCB", "cost": 6.0e10, "regret": 5.07e-21},

      {"panel": "GD", "approach": "Arm #8", "cost": 0.02e10, "regret": 0.02e-21},
      {"panel": "GD", "approach": "Arm #8", "cost": 0.87e10, "regret": 1.96e-21},
      {"panel": "GD", "approach": "Arm #8", "cost": 1.71e10, "regret": 3.92e-21},
      {"panel": "GD", "approach": "Arm #8", "cost": 2.56e10, "regret": 5.90e-21},
      {"panel": "GD", "approach": "Arm #8", "cost": 3.41e10, "regret": 7.84e-21},
      {"panel": "GD", "approach": "Arm #8", "cost": 4.25e10, "regret": 9.85e-21},
      {"panel": "GD", "approach": "Arm #8", "cost": 5.10e10, "regret": 11.81e-21},
      {"panel": "GD", "approach": "Arm #8", "cost": 6.0e10, "regret": 13.80e-21},
      {"panel": "GD", "approach": "TS", "cost": 0.04e10, "regret": 8.9e-17},
      {"panel": "GD", "approach": "TS", "cost": 0.08e10, "regret": 5.9e-15},
      {"panel": "GD", "approach": "TS", "cost": 0.18e10, "regret": 2.45e-14},
      {"panel": "GD", "approach": "TS", "cost": 0.23e10, "regret": 2.1e-14},
      {"panel": "GD", "approach": "TS", "cost": 0.30e10, "regret": 5.5e-14},
      {"panel": "GD", "approach": "TS", "cost": 0.37e10, "regret": 4.5e-14},
      {"panel": "GD", "approach": "TS", "cost": 0.41e10, "regret": 8.7e-15},
      {"panel": "GD", "approach": "TS", "cost": 0.44e10, "regret": 3.16e-15},
      {"panel": "GD", "approach": "TS", "cost": 0.55e10, "regret": 3.3e-16},
      {"panel": "GD", "approach": "TS", "cost": 0.65e10, "regret": 8.9e-17},
      {"panel": "GD", "approach": "TS", "cost": 0.67e10, "regret": 0.42e-21},
      {"panel": "GD", "approach": "TS", "cost": 1.10e10, "regret": 0.60e-21},
      {"panel": "GD", "approach": "TS", "cost": 1.75e10, "regret": 1.04e-21},
      {"panel": "GD", "approach": "TS", "cost": 2.41e10, "regret": 1.32e-21},
      {"panel": "GD", "approach": "TS", "cost": 3.07e10, "regret": 1.73e-21},
      {"panel": "GD", "approach": "TS", "cost": 3.71e10, "regret": 2.05e-21},
      {"panel": "GD", "approach": "TS", "cost": 4.35e10, "regret": 2.31e-21},
      {"panel": "GD", "approach": "TS", "cost": 4.98e10, "regret": 2.45e-21},
      {"panel": "GD", "approach": "TS", "cost": 5.62e10, "regret": 2.59e-21},
      {"panel": "GD", "approach": "TS", "cost": 6.0e10, "regret": 2.68e-21},
      {"panel": "GD", "approach": "UCB", "cost": 0.02e10, "regret": 0.04e-21},
      {"panel": "GD", "approach": "UCB", "cost": 0.10e10, "regret": 0.19e-21},
      {"panel": "GD", "approach": "UCB", "cost": 0.27e10, "regret": 0.52e-21},
      {"panel": "GD", "approach": "UCB", "cost": 0.99e10, "regret": 1.96e-21},
      {"panel": "GD", "approach": "UCB", "cost": 1.76e10, "regret": 3.48e-21},
      {"panel": "GD", "approach": "UCB", "cost": 2.49e10, "regret": 4.90e-21},
      {"panel": "GD", "approach": "UCB", "cost": 3.22e10, "regret": 6.28e-21},
      {"panel": "GD", "approach": "UCB", "cost": 3.96e10, "regret": 7.87e-21},
      {"panel": "GD", "approach": "UCB", "cost": 4.68e10, "regret": 9.22e-21},
      {"panel": "GD", "approach": "UCB", "cost": 5.41e10, "regret": 10.69e-21},
      {"panel": "GD", "approach": "UCB", "cost": 6.0e10, "regret": 11.84e-21},
      {"panel": "GD", "approach": "UCB−V", "cost": 0.025e10, "regret": 3.5e-28},
      {"panel": "GD", "approach": "UCB−V", "cost": 0.03e10, "regret": 0.054e-21},
      {"panel": "GD", "approach": "UCB−V", "cost": 0.78e10, "regret": 1.10e-21},
      {"panel": "GD", "approach": "UCB−V", "cost": 1.53e10, "regret": 2.16e-21},
      {"panel": "GD", "approach": "UCB−V", "cost": 2.30e10, "regret": 3.11e-21},
      {"panel": "GD", "approach": "UCB−V", "cost": 3.06e10, "regret": 3.92e-21},
      {"panel": "GD", "approach": "UCB−V", "cost": 3.80e10, "regret": 4.61e-21},
      {"panel": "GD", "approach": "UCB−V", "cost": 4.56e10, "regret": 5.21e-21},
      {"panel": "GD", "approach": "UCB−V", "cost": 5.32e10, "regret": 5.76e-21},
      {"panel": "GD", "approach": "UCB−V", "cost": 6.0e10, "regret": 6.14e-21},
      {"panel": "GD", "approach": "KL−UCB", "cost": 0.02e10, "regret": 0.025e-21},
      {"panel": "GD", "approach": "KL−UCB", "cost": 0.10e10, "regret": 0.12e-21},
      {"panel": "GD", "approach": "KL−UCB", "cost": 0.24e10, "regret": 0.29e-21},
      {"panel": "GD", "approach": "KL−UCB", "cost": 0.85e10, "regret": 1.01e-21},
      {"panel": "GD", "approach": "KL−UCB", "cost": 1.47e10, "regret": 1.67e-21},
      {"panel": "GD", "approach": "KL−UCB", "cost": 2.06e10, "regret": 2.19e-21},
      {"panel": "GD", "approach": "KL−UCB", "cost": 2.66e10, "regret": 2.74e-21},
      {"panel": "GD", "approach": "KL−UCB", "cost": 3.25e10, "regret": 3.26e-21},
      {"panel": "GD", "approach": "KL−UCB", "cost": 3.84e10, "regret": 3.69e-21},
      {"panel": "GD", "approach": "KL−UCB", "cost": 4.42e10, "regret": 4.12e-21},
      {"panel": "GD", "approach": "KL−UCB", "cost": 5.01e10, "regret": 4.49e-21},
      {"panel": "GD", "approach": "KL−UCB", "cost": 5.59e10, "regret": 4.90e-21},
      {"panel": "GD", "approach": "KL−UCB", "cost": 6.0e10, "regret": 5.07e-21}
    ]
  },
  "bounds": "flush",
  "spacing": 47,
  "hconcat": [
    {
      "width": 201, "height": 328,
      "title": {"text": "nlaser: 24 pos: 6, Uniform", "dy": 3},
      "encoding": {
        "x": {"field": "cost", "type": "quantitative", "scale": {"domain": [-0.045e10, 6.07e10], "nice": false, "zero": false},
          "axis": {"title": "Cost", "values": [0, 1e10, 2e10, 3e10, 4e10, 5e10, 6e10],
            "labelExpr": "datum.value == 0 ? '0' : (datum.value % 2e10 != 0 ? '' : format(datum.value, '.0e'))",
            "gridColor": {"condition": {"test": "datum.value % 2e10 != 0", "value": "#F2F2F2"}, "value": "#FFFFFF"},
            "gridWidth": {"condition": {"test": "datum.value % 2e10 != 0", "value": 0.6}, "value": 1.1},
            "tickOpacity": {"condition": {"test": "datum.value % 2e10 != 0", "value": 0}, "value": 1}}},
        "y": {"field": "regret", "type": "quantitative", "scale": {"domain": [-0.17e-21, 28.15e-21], "nice": false, "zero": false},
          "axis": {"title": "Regret", "titlePadding": 6, "values": [0, 3.5e-21, 7e-21, 1.05e-20, 1.4e-20, 1.75e-20, 2.1e-20, 2.45e-20, 2.8e-20],
            "labelExpr": "datum.value == 0 ? '0' : (round(datum.value / 3.5e-21) % 2 == 1 ? '' : format(datum.value, '.1e'))",
            "gridColor": {"condition": {"test": "round(datum.value / 3.5e-21) % 2 == 1", "value": "#F2F2F2"}, "value": "#FFFFFF"},
            "gridWidth": {"condition": {"test": "round(datum.value / 3.5e-21) % 2 == 1", "value": 0.6}, "value": 1.1},
            "tickOpacity": {"condition": {"test": "round(datum.value / 3.5e-21) % 2 == 1", "value": 0}, "value": 1}}}
      },
      "layer": [
        {"data": {"name": "curves"}, "transform": [{"filter": "datum.panel == 'Uniform'"}],
          "mark": {"type": "line", "strokeWidth": 1.1, "clip": true},
          "encoding": {"stroke": {"field": "approach", "type": "nominal", "title": "Approach:",
            "scale": {"domain": ["Arm #8", "TS", "UCB", "UCB−V", "KL−UCB"], "range": ["#A3A53F", "#72AC3C", "#20BDC6", "#B38FD0", "#F8766D"]}}}},
        {"data": {"name": "markers"}, "transform": [{"filter": "datum.panel == 'Uniform' && isValid(datum.lo)"}],
          "mark": {"type": "errorbar", "ticks": true, "size": 5, "thickness": 1, "opacity": 0.85},
          "encoding": {"y": {"field": "lo", "type": "quantitative"}, "y2": {"field": "hi"},
            "stroke": {"field": "approach", "type": "nominal", "title": "Approach:",
              "scale": {"domain": ["Arm #8", "TS", "UCB", "UCB−V", "KL−UCB"], "range": ["#A3A53F", "#72AC3C", "#20BDC6", "#B38FD0", "#F8766D"]}}}},
        {"data": {"name": "markers"}, "transform": [{"filter": "datum.panel == 'Uniform'"}],
          "mark": {"type": "point", "opacity": 1, "size": 70, "strokeWidth": 1.2, "clip": true},
          "encoding": {
            "stroke": {"field": "approach", "type": "nominal", "title": "Approach:",
              "scale": {"domain": ["Arm #8", "TS", "UCB", "UCB−V", "KL−UCB"], "range": ["#A3A53F", "#72AC3C", "#20BDC6", "#B38FD0", "#F8766D"]},
              "legend": {"orient": "none", "legendX": 121, "legendY": -50, "direction": "horizontal", "titleOrient": "left", "titleFontSize": 20, "titleFontWeight": "bold", "titleColor": "#000000", "labelFontSize": 20, "labelColor": "#000000", "symbolSize": 75, "symbolStrokeWidth": 1.3, "labelOffset": 15, "columnPadding": 31, "titlePadding": 36, "padding": 0}},
            "fill": {"field": "approach", "type": "nominal", "title": "Approach:",
              "scale": {"domain": ["Arm #8", "TS", "UCB", "UCB−V", "KL−UCB"], "range": ["#A3A53F", "#72AC3C", "transparent", "transparent", "#F8766D"]},
              "legend": {"orient": "none", "legendX": 121, "legendY": -50, "direction": "horizontal", "titleOrient": "left", "titleFontSize": 20, "titleFontWeight": "bold", "titleColor": "#000000", "labelFontSize": 20, "labelColor": "#000000", "symbolSize": 75, "symbolStrokeWidth": 1.3, "labelOffset": 15, "columnPadding": 31, "titlePadding": 36, "padding": 0}},
            "shape": {"field": "approach", "type": "nominal", "title": "Approach:",
              "scale": {"domain": ["Arm #8", "TS", "UCB", "UCB−V", "KL−UCB"], "range": ["triangle-up", "square", "M-1.3,0L1.3,0M0,-1.3L0,1.3", "M-1,-1L1,-1L1,1L-1,1Z M-1,-1L1,1 M1,-1L-1,1", "circle"]},
              "legend": {"orient": "none", "legendX": 121, "legendY": -50, "direction": "horizontal", "titleOrient": "left", "titleFontSize": 20, "titleFontWeight": "bold", "titleColor": "#000000", "labelFontSize": 20, "labelColor": "#000000", "symbolSize": 75, "symbolStrokeWidth": 1.3, "labelOffset": 15, "columnPadding": 31, "titlePadding": 36, "padding": 0}}
          }}
      ]
    },
    {
      "width": 201, "height": 328,
      "title": {"text": "nlaser: 24 pos: 6, Optimal", "dy": 3},
      "encoding": {
        "x": {"field": "cost", "type": "quantitative", "scale": {"domain": [-0.045e10, 6.07e10], "nice": false, "zero": false},
          "axis": {"title": "Cost", "values": [0, 1e10, 2e10, 3e10, 4e10, 5e10, 6e10],
            "labelExpr": "datum.value == 0 ? '0' : (datum.value % 2e10 != 0 ? '' : format(datum.value, '.0e'))",
            "gridColor": {"condition": {"test": "datum.value % 2e10 != 0", "value": "#F2F2F2"}, "value": "#FFFFFF"},
            "gridWidth": {"condition": {"test": "datum.value % 2e10 != 0", "value": 0.6}, "value": 1.1},
            "tickOpacity": {"condition": {"test": "datum.value % 2e10 != 0", "value": 0}, "value": 1}}},
        "y": {"field": "regret", "type": "quantitative", "scale": {"domain": [-0.17e-21, 28.15e-21], "nice": false, "zero": false},
          "axis": {"title": null, "values": [0, 3.5e-21, 7e-21, 1.05e-20, 1.4e-20, 1.75e-20, 2.1e-20, 2.45e-20, 2.8e-20],
            "labelExpr": "datum.value == 0 ? '0' : (round(datum.value / 3.5e-21) % 2 == 1 ? '' : format(datum.value, '.1e'))",
            "gridColor": {"condition": {"test": "round(datum.value / 3.5e-21) % 2 == 1", "value": "#F2F2F2"}, "value": "#FFFFFF"},
            "gridWidth": {"condition": {"test": "round(datum.value / 3.5e-21) % 2 == 1", "value": 0.6}, "value": 1.1},
            "tickOpacity": {"condition": {"test": "round(datum.value / 3.5e-21) % 2 == 1", "value": 0}, "value": 1}}}
      },
      "layer": [
        {"data": {"name": "curves"}, "transform": [{"filter": "datum.panel == 'Optimal'"}],
          "mark": {"type": "line", "strokeWidth": 1.1, "clip": true},
          "encoding": {"stroke": {"field": "approach", "type": "nominal", "title": "Approach:",
            "scale": {"domain": ["Arm #8", "TS", "UCB", "UCB−V", "KL−UCB"], "range": ["#A3A53F", "#72AC3C", "#20BDC6", "#B38FD0", "#F8766D"]}}}},
        {"data": {"name": "markers"}, "transform": [{"filter": "datum.panel == 'Optimal' && isValid(datum.lo)"}],
          "mark": {"type": "errorbar", "ticks": true, "size": 5, "thickness": 1, "opacity": 0.85},
          "encoding": {"y": {"field": "lo", "type": "quantitative"}, "y2": {"field": "hi"},
            "stroke": {"field": "approach", "type": "nominal", "title": "Approach:",
              "scale": {"domain": ["Arm #8", "TS", "UCB", "UCB−V", "KL−UCB"], "range": ["#A3A53F", "#72AC3C", "#20BDC6", "#B38FD0", "#F8766D"]}}}},
        {"data": {"name": "markers"}, "transform": [{"filter": "datum.panel == 'Optimal'"}],
          "mark": {"type": "point", "opacity": 1, "size": 70, "strokeWidth": 1.2, "clip": true},
          "encoding": {
            "stroke": {"field": "approach", "type": "nominal", "title": "Approach:",
              "scale": {"domain": ["Arm #8", "TS", "UCB", "UCB−V", "KL−UCB"], "range": ["#A3A53F", "#72AC3C", "#20BDC6", "#B38FD0", "#F8766D"]}},
            "fill": {"field": "approach", "type": "nominal", "title": "Approach:",
              "scale": {"domain": ["Arm #8", "TS", "UCB", "UCB−V", "KL−UCB"], "range": ["#A3A53F", "#72AC3C", "transparent", "transparent", "#F8766D"]}},
            "shape": {"field": "approach", "type": "nominal", "title": "Approach:",
              "scale": {"domain": ["Arm #8", "TS", "UCB", "UCB−V", "KL−UCB"], "range": ["triangle-up", "square", "M-1.3,0L1.3,0M0,-1.3L0,1.3", "M-1,-1L1,-1L1,1L-1,1Z M-1,-1L1,1 M1,-1L-1,1", "circle"]}}
          }}
      ]
    },
    {
      "width": 201, "height": 328,
      "title": {"text": "nlaser: 24 pos: 6, UCB−W", "dy": 3},
      "encoding": {
        "x": {"field": "cost", "type": "quantitative", "scale": {"domain": [-0.045e10, 6.07e10], "nice": false, "zero": false},
          "axis": {"title": "Cost", "values": [0, 1e10, 2e10, 3e10, 4e10, 5e10, 6e10],
            "labelExpr": "datum.value == 0 ? '0' : (datum.value % 2e10 != 0 ? '' : format(datum.value, '.0e'))",
            "gridColor": {"condition": {"test": "datum.value % 2e10 != 0", "value": "#F2F2F2"}, "value": "#FFFFFF"},
            "gridWidth": {"condition": {"test": "datum.value % 2e10 != 0", "value": 0.6}, "value": 1.1},
            "tickOpacity": {"condition": {"test": "datum.value % 2e10 != 0", "value": 0}, "value": 1}}},
        "y": {"field": "regret", "type": "quantitative", "scale": {"domain": [-0.17e-21, 28.15e-21], "nice": false, "zero": false},
          "axis": {"title": null, "values": [0, 3.5e-21, 7e-21, 1.05e-20, 1.4e-20, 1.75e-20, 2.1e-20, 2.45e-20, 2.8e-20],
            "labelExpr": "datum.value == 0 ? '0' : (round(datum.value / 3.5e-21) % 2 == 1 ? '' : format(datum.value, '.1e'))",
            "gridColor": {"condition": {"test": "round(datum.value / 3.5e-21) % 2 == 1", "value": "#F2F2F2"}, "value": "#FFFFFF"},
            "gridWidth": {"condition": {"test": "round(datum.value / 3.5e-21) % 2 == 1", "value": 0.6}, "value": 1.1},
            "tickOpacity": {"condition": {"test": "round(datum.value / 3.5e-21) % 2 == 1", "value": 0}, "value": 1}}}
      },
      "layer": [
        {"data": {"name": "curves"}, "transform": [{"filter": "datum.panel == 'UCB-W'"}],
          "mark": {"type": "line", "strokeWidth": 1.1, "clip": true},
          "encoding": {"stroke": {"field": "approach", "type": "nominal", "title": "Approach:",
            "scale": {"domain": ["Arm #8", "TS", "UCB", "UCB−V", "KL−UCB"], "range": ["#A3A53F", "#72AC3C", "#20BDC6", "#B38FD0", "#F8766D"]}}}},
        {"data": {"name": "markers"}, "transform": [{"filter": "datum.panel == 'UCB-W' && isValid(datum.lo)"}],
          "mark": {"type": "errorbar", "ticks": true, "size": 5, "thickness": 1, "opacity": 0.85},
          "encoding": {"y": {"field": "lo", "type": "quantitative"}, "y2": {"field": "hi"},
            "stroke": {"field": "approach", "type": "nominal", "title": "Approach:",
              "scale": {"domain": ["Arm #8", "TS", "UCB", "UCB−V", "KL−UCB"], "range": ["#A3A53F", "#72AC3C", "#20BDC6", "#B38FD0", "#F8766D"]}}}},
        {"data": {"name": "markers"}, "transform": [{"filter": "datum.panel == 'UCB-W'"}],
          "mark": {"type": "point", "opacity": 1, "size": 70, "strokeWidth": 1.2, "clip": true},
          "encoding": {
            "stroke": {"field": "approach", "type": "nominal", "title": "Approach:",
              "scale": {"domain": ["Arm #8", "TS", "UCB", "UCB−V", "KL−UCB"], "range": ["#A3A53F", "#72AC3C", "#20BDC6", "#B38FD0", "#F8766D"]}},
            "fill": {"field": "approach", "type": "nominal", "title": "Approach:",
              "scale": {"domain": ["Arm #8", "TS", "UCB", "UCB−V", "KL−UCB"], "range": ["#A3A53F", "#72AC3C", "transparent", "transparent", "#F8766D"]}},
            "shape": {"field": "approach", "type": "nominal", "title": "Approach:",
              "scale": {"domain": ["Arm #8", "TS", "UCB", "UCB−V", "KL−UCB"], "range": ["triangle-up", "square", "M-1.3,0L1.3,0M0,-1.3L0,1.3", "M-1,-1L1,-1L1,1L-1,1Z M-1,-1L1,1 M1,-1L-1,1", "circle"]}}
          }}
      ]
    },
    {
      "width": 215, "height": 328,
      "title": {"text": "nlaser: 24 pos: 6, GD", "offset": 5, "dy": -1},
      "encoding": {
        "x": {"field": "cost", "type": "quantitative", "scale": {"domain": [-0.048e10, 6.022e10], "nice": false, "zero": false},
          "axis": {"title": "Cost", "values": [0, 1e10, 2e10, 3e10, 4e10, 5e10, 6e10],
            "labelExpr": "datum.value == 0 ? '0' : (datum.value % 2e10 != 0 ? '' : format(datum.value, '.0e'))",
            "gridColor": {"condition": {"test": "datum.value % 2e10 != 0", "value": "#F2F2F2"}, "value": "#FFFFFF"},
            "gridWidth": {"condition": {"test": "datum.value % 2e10 != 0", "value": 0.6}, "value": 1.1},
            "tickOpacity": {"condition": {"test": "datum.value % 2e10 != 0", "value": 0}, "value": 1}}},
        "y": {"field": "regret", "type": "quantitative", "scale": {"type": "log", "domain": [1.95e-31, 5.5e-14], "nice": false, "zero": false},
          "axis": {"title": null, "values": [1e-29, 1e-27, 1e-25, 1e-23, 1e-21, 1e-19, 1e-17, 1e-15],
            "labelExpr": "round(-log(datum.value) / LN10) % 4 == 1 ? '' : format(datum.value, '.0e')",
            "gridColor": {"condition": {"test": "round(-log(datum.value) / LN10) % 4 == 1", "value": "#F2F2F2"}, "value": "#FFFFFF"},
            "gridWidth": {"condition": {"test": "round(-log(datum.value) / LN10) % 4 == 1", "value": 0.6}, "value": 1.1},
            "tickOpacity": {"condition": {"test": "round(-log(datum.value) / LN10) % 4 == 1", "value": 0}, "value": 1}}}
      },
      "layer": [
        {"data": {"name": "curves"}, "transform": [{"filter": "datum.panel == 'GD'"}],
          "mark": {"type": "line", "strokeWidth": 1.1, "clip": true},
          "encoding": {"stroke": {"field": "approach", "type": "nominal", "title": "Approach:",
            "scale": {"domain": ["Arm #8", "TS", "UCB", "UCB−V", "KL−UCB"], "range": ["#A3A53F", "#72AC3C", "#20BDC6", "#B38FD0", "#F8766D"]}}}},
        {"data": {"name": "markers"}, "transform": [{"filter": "datum.panel == 'GD' && isValid(datum.lo)"}],
          "mark": {"type": "errorbar", "ticks": true, "size": 5, "thickness": 1, "opacity": 0.85, "clip": true},
          "encoding": {"y": {"field": "lo", "type": "quantitative"}, "y2": {"field": "hi"},
            "stroke": {"field": "approach", "type": "nominal", "title": "Approach:",
              "scale": {"domain": ["Arm #8", "TS", "UCB", "UCB−V", "KL−UCB"], "range": ["#A3A53F", "#72AC3C", "#20BDC6", "#B38FD0", "#F8766D"]}}}},
        {"data": {"name": "markers"}, "transform": [{"filter": "datum.panel == 'GD'"}],
          "mark": {"type": "point", "opacity": 1, "size": 70, "strokeWidth": 1.2, "clip": true},
          "encoding": {
            "stroke": {"field": "approach", "type": "nominal", "title": "Approach:",
              "scale": {"domain": ["Arm #8", "TS", "UCB", "UCB−V", "KL−UCB"], "range": ["#A3A53F", "#72AC3C", "#20BDC6", "#B38FD0", "#F8766D"]}},
            "fill": {"field": "approach", "type": "nominal", "title": "Approach:",
              "scale": {"domain": ["Arm #8", "TS", "UCB", "UCB−V", "KL−UCB"], "range": ["#A3A53F", "#72AC3C", "transparent", "transparent", "#F8766D"]}},
            "shape": {"field": "approach", "type": "nominal", "title": "Approach:",
              "scale": {"domain": ["Arm #8", "TS", "UCB", "UCB−V", "KL−UCB"], "range": ["triangle-up", "square", "M-1.3,0L1.3,0M0,-1.3L0,1.3", "M-1,-1L1,-1L1,1L-1,1Z M-1,-1L1,1 M1,-1L-1,1", "circle"]}}
          }}
      ]
    }
  ]
}
